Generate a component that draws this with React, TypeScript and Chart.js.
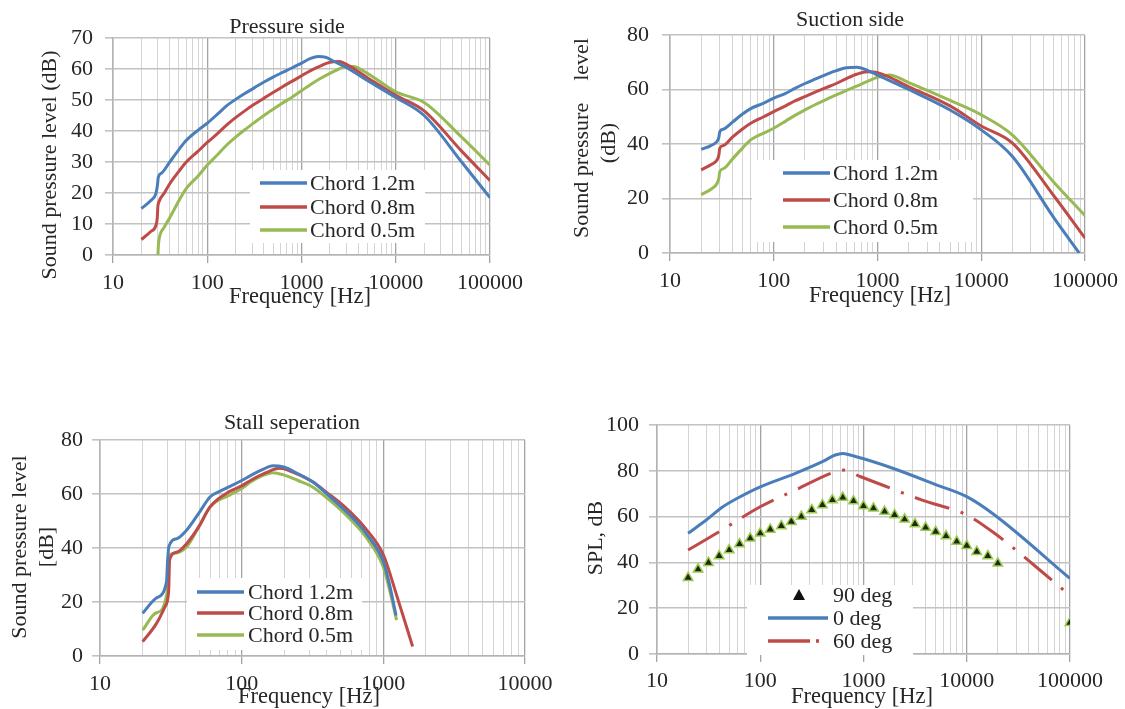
import React, { useEffect, useRef } from "react";
import { Chart, registerables } from "chart.js";

Chart.register(...registerables);

const FONT = '"Liberation Serif", "Times New Roman", serif';
const INK = "#262626";
const BLUE = "#4A7EBB";
const RED = "#BE4B48";
const GREEN = "#98B954";

// ---------- Pressure side ----------
const psFreq12 = [20, 25, 28.5, 29.6, 30.2, 33, 40, 50, 60, 80, 100, 130, 160, 200, 250, 315, 400, 500, 630, 800, 1000, 1250, 1500, 1800, 2200, 3000, 5000, 10000, 20000, 50000, 100000];
const psSpl12 = [15, 17.5, 19.8, 22.5, 25, 26.5, 30, 34, 37, 40.3, 42.5, 45.6, 48.1, 50.2, 52.1, 53.9, 55.8, 57.4, 58.9, 60.4, 61.9, 63.4, 64, 63.8, 62.5, 60.5, 56.3, 50.8, 45, 30, 18.5];
const psFreq08 = [20, 25, 28.5, 29.5, 29.9, 30.6, 35, 40, 50, 60, 80, 100, 130, 160, 200, 250, 315, 400, 500, 630, 800, 1000, 1250, 1600, 2000, 2500, 3000, 5000, 10000, 20000, 50000, 100000];
const psSpl08 = [5, 7.5, 9.5, 12, 15.5, 17, 20, 23, 27, 30, 33.5, 36.3, 39.3, 41.9, 44.3, 46.5, 48.6, 50.6, 52.4, 54.3, 56.1, 57.8, 59.5, 61, 62.2, 62.4, 61.5, 57.2, 51.5, 46.5, 33.5, 24];
const psFreq05 = [30, 30.3, 31, 35, 40, 50, 60, 80, 100, 130, 160, 200, 250, 315, 400, 500, 630, 800, 1000, 1250, 1600, 2000, 2500, 3000, 3600, 5000, 10000, 20000, 50000, 100000];
const psSpl05 = [0, 3, 5.5, 9, 12, 17.5, 21.5, 25.5, 29, 32.5, 35.4, 38, 40.4, 42.7, 45, 47, 49, 51, 53, 55, 57, 58.6, 60, 60.9, 60.8, 58.6, 52.6, 49.2, 38, 29];

// ---------- Suction side ----------
const ssFreq12 = [20, 25, 28.5, 29.6, 30.2, 33, 40, 50, 60, 80, 100, 130, 160, 200, 250, 315, 400, 500, 630, 800, 1000, 2000, 5000, 10000, 20000, 50000, 88000];
const ssSpl12 = [38, 39.5, 41, 42.5, 44.5, 45.5, 48, 51, 53, 55, 56.8, 58.6, 60.4, 62.2, 63.8, 65.4, 66.9, 68, 68.2, 67, 65.3, 60, 52.5, 45.2, 35.4, 13, 0];
const ssFreq08 = [20, 25, 28.5, 29.6, 30.2, 33, 40, 50, 60, 80, 100, 130, 160, 200, 250, 315, 400, 500, 630, 800, 1000, 2000, 5000, 10000, 20000, 50000, 100000];
const ssSpl08 = [30.5, 32.5, 34.2, 36, 38.5, 39.5, 42.5, 45.5, 47.6, 50, 51.9, 54, 55.8, 57.4, 59, 60.6, 62.2, 64, 65.6, 66.5, 66.2, 61, 54, 46.6, 40.3, 21, 5.5];
const ssFreq05 = [20, 25, 28.5, 29.6, 30.2, 33, 40, 50, 60, 80, 100, 130, 160, 200, 250, 315, 400, 500, 630, 800, 1000, 1300, 2000, 5000, 10000, 20000, 50000, 100000];
const ssSpl05 = [21.4, 23.5, 25.6, 27.5, 29.9, 31, 34.5, 38.5, 41.5, 44, 45.8, 48.4, 50.5, 52.5, 54.4, 56.2, 58, 59.6, 61.2, 63, 64.5, 65.3, 62.5, 56, 50.7, 43.3, 26, 13.7];

// ---------- Stall separation ----------
const stFreq12 = [20, 25, 29.5, 30, 30.6, 35, 41, 50, 60, 70, 82, 100, 117, 140, 166, 198, 250, 315, 400, 532, 650, 755, 1000, 1100, 1230];
const stSpl12 = [15.8, 21.5, 27.5, 35, 40.5, 43.5, 46.7, 53, 59, 61, 62.7, 65, 67, 69, 70.5, 70, 67.5, 64.6, 60, 54.1, 49.5, 45.4, 35, 27, 15];
const stFreq08 = [20, 25, 28.8, 30.5, 31, 35, 41, 50, 60, 82, 100, 117, 150, 185, 220, 315, 400, 532, 755, 1000, 1250, 1610];
const stSpl08 = [5.3, 12, 18.3, 23.8, 35.6, 38.5, 41.7, 48, 55.3, 60.9, 63, 65.2, 68, 69.5, 68.5, 64.6, 60.5, 55.3, 47, 37.5, 22, 3.5];
const stFreq05 = [20, 25, 29.7, 30, 33, 41, 50, 60, 82, 100, 117, 140, 166, 200, 250, 315, 400, 532, 755, 1000, 1100, 1240];
const stSpl05 = [9.6, 16, 23.2, 35.6, 38, 40.5, 48, 55.3, 59.6, 62, 64.6, 66.8, 67.9, 67, 65, 62.7, 58.5, 52.8, 44, 33, 25, 13.3];

// ---------- SPL vs angle ----------
const angFreq90 = [20, 25, 31.5, 40, 50, 63, 80, 100, 125, 160, 200, 250, 315, 400, 500, 630, 800, 1000, 1250, 1600, 2000, 2500, 3150, 4000, 5000, 6300, 8000, 10000, 12500, 16000, 20000, 100000];
const angSpl90 = [33.3, 37, 39.9, 42.8, 45.4, 48, 50.5, 52.7, 54.4, 55.9, 57.8, 60, 62.9, 65.1, 67.2, 68.3, 66.8, 64.6, 63.6, 62.2, 60.7, 58.8, 56.8, 55.2, 53.4, 51.5, 49.1, 47.3, 44.7, 42.8, 39.6, 13.7];
const angFreq0 = [20, 30, 43.5, 60, 100, 219, 400, 532, 630, 742, 1100, 1950, 5000, 10000, 18600, 100000];
const angSpl0 = [52.7, 58.5, 64.3, 68, 73, 78.9, 84, 86.9, 87.6, 86.9, 84.7, 81, 74, 68.7, 60.7, 33];
const angFreq60 = [20, 40, 100, 219, 532, 630, 940, 3700, 10000, 18600, 87000];
const angSpl60 = [45.4, 53.4, 64.3, 71.6, 79.6, 80.3, 77.4, 67.2, 60.7, 52.7, 27.9];

// ---------- axis tick labels ----------
const freqTicksWide = [10, 100, 1000, 10000, 100000];
const freqTicksStall = [10, 100, 1000, 10000];
const chordLabels = ["Chord 1.2m", "Chord 0.8m", "Chord 0.5m"];
const angleLabels = ["90 deg", "0 deg", "60 deg"];

function gridValues(dec: number[]) {
  const out: number[] = [];
  for (let i = 0; i < dec.length; i++) {
    out.push(dec[i]);
    if (i < dec.length - 1) for (let k = 2; k <= 9; k++) out.push(dec[i] * k);
  }
  return out;
}
function isDecade(v: any) {
  if (typeof v !== "number" || v <= 0) return false;
  const l = Math.log10(v);
  return Math.abs(l - Math.round(l)) < 1e-9;
}

function xAxis(dec: number[], h: number, pad: number) {
  const grid = gridValues(dec);
  return {
    type: "logarithmic",
    min: dec[0],
    max: dec[dec.length - 1],
    afterBuildTicks: (s: any) => {
      s.ticks = grid.map((v) => ({ value: v }));
    },
    afterFit: (s: any) => {
      s.height = h;
    },
    ticks: {
      autoSkip: false,
      maxRotation: 0,
      minRotation: 0,
      padding: pad,
      color: INK,
      font: { family: FONT, size: 22 },
      callback: (v: any) => (dec.includes(v) ? String(v) : ""),
    },
    grid: {
      color: (c: any) => (isDecade(c.tick && c.tick.value) ? "#A3A3A3" : "#D4D4D4"),
      lineWidth: (c: any) => (isDecade(c.tick && c.tick.value) ? 1.3 : 1),
      tickLength: 8,
      tickWidth: 1.3,
      tickColor: (c: any) => (isDecade(c.tick && c.tick.value) ? "#A3A3A3" : "rgba(0,0,0,0)"),
    },
    border: { display: true, color: "#B3B3B3", width: 1.5 },
  };
}

function yAxis(max: number, step: number, w: number, pad: number) {
  return {
    type: "linear",
    min: 0,
    max,
    afterFit: (s: any) => {
      s.width = w;
    },
    ticks: { stepSize: step, padding: pad, color: INK, font: { family: FONT, size: 22 } },
    grid: { color: "#C2C2C2", lineWidth: 1.6, tickLength: 8, tickColor: "#C2C2C2" },
    border: { display: true, color: "#B3B3B3", width: 1.5 },
  };
}

function lineDs(label: string, xs: number[], ys: number[], color: string, dash?: number[]) {
  return {
    label,
    data: xs.map((x, i) => ({ x, y: ys[i] })),
    borderColor: color,
    backgroundColor: color,
    borderWidth: 3,
    pointRadius: 0,
    fill: false,
    cubicInterpolationMode: "monotone",
    borderDash: dash || [],
    borderCapStyle: "butt",
  };
}

type TextItem = { t: string; x: number; y: number; size: number; rot?: boolean };
type LegItem = { label: string; y: number; color: string; kind: string; x1: number; x2: number; tx: number; mx?: number };

const DASHDOT = [36, 12, 3, 12];

function decor(texts: TextItem[], box: number[], items: LegItem[]) {
  return {
    id: "decor",
    beforeDatasetsDraw(chart: any) {
      const ctx = chart.ctx;
      ctx.save();
      ctx.fillStyle = "#ffffff";
      ctx.fillRect(box[0], box[1], box[2] - box[0], box[3] - box[1]);
      for (const it of items) {
        if (it.kind === "tri") {
          const cx = it.mx as number;
          ctx.beginPath();
          ctx.moveTo(cx, it.y - 6);
          ctx.lineTo(cx + 6, it.y + 5);
          ctx.lineTo(cx - 6, it.y + 5);
          ctx.closePath();
          ctx.fillStyle = "#111111";
          ctx.fill();
        } else {
          ctx.beginPath();
          ctx.strokeStyle = it.color;
          ctx.lineWidth = 3.5;
          ctx.lineCap = "butt";
          ctx.setLineDash(it.kind === "dashdot" ? [42, 6, 3, 12] : []);
          ctx.moveTo(it.x1, it.y);
          ctx.lineTo(it.x2, it.y);
          ctx.stroke();
          ctx.setLineDash([]);
        }
        ctx.fillStyle = INK;
        ctx.font = `22px ${FONT}`;
        ctx.textAlign = "left";
        ctx.textBaseline = "middle";
        ctx.fillText(it.label, it.tx, it.y + 1);
      }
      ctx.restore();
    },
    afterDraw(chart: any) {
      const ctx = chart.ctx;
      ctx.save();
      ctx.fillStyle = INK;
      ctx.textAlign = "center";
      ctx.textBaseline = "middle";
      for (const t of texts) {
        ctx.font = `${t.size}px ${FONT}`;
        if (t.rot) {
          ctx.save();
          ctx.translate(t.x, t.y);
          ctx.rotate(-Math.PI / 2);
          ctx.fillText(t.t, 0, 0);
          ctx.restore();
        } else {
          ctx.fillText(t.t, t.x, t.y);
        }
      }
      ctx.restore();
    },
  };
}

function baseOptions(pad: any, scales: any) {
  return {
    animation: false,
    responsive: false,
    events: [],
    layout: { padding: pad },
    plugins: { legend: { display: false }, tooltip: { enabled: false }, title: { display: false } },
    scales,
  };
}

function Panel({ left, top, width, height, make }: any) {
  const ref = useRef<HTMLCanvasElement>(null);
  useEffect(() => {
    const chart = new Chart(ref.current as HTMLCanvasElement, make());
    return () => chart.destroy();
  }, []);
  return (
    <canvas
      ref={ref}
      width={width}
      height={height}
      style={{ position: "absolute", left, top, width, height }}
    />
  );
}

const makePressure = () => ({
  type: "line",
  data: {
    datasets: [
      lineDs(chordLabels[0], psFreq12, psSpl12, BLUE),
      lineDs(chordLabels[1], psFreq08, psSpl08, RED),
      lineDs(chordLabels[2], psFreq05, psSpl05, GREEN),
    ],
  },
  options: baseOptions({ left: 0, top: 38, right: 72, bottom: 0 }, {
    x: xAxis(freqTicksWide, 99, 7),
    y: yAxis(70, 10, 113, 12),
  }),
  plugins: [
    decor(
      [
        { t: "Pressure side", x: 287, y: 27, size: 22 },
        { t: "Frequency [Hz]", x: 300, y: 297, size: 22.5 },
        { t: "Sound pressure level (dB)", x: 50, y: 165, size: 22, rot: true },
      ],
      [250, 170, 425, 243],
      [
        { label: chordLabels[0], y: 183, color: BLUE, kind: "line", x1: 260, x2: 307, tx: 310 },
        { label: chordLabels[1], y: 207, color: RED, kind: "line", x1: 260, x2: 307, tx: 310 },
        { label: chordLabels[2], y: 230, color: GREEN, kind: "line", x1: 260, x2: 307, tx: 310 },
      ]
    ),
  ],
});

const makeSuction = () => ({
  type: "line",
  data: {
    datasets: [
      lineDs(chordLabels[0], ssFreq12, ssSpl12, BLUE),
      lineDs(chordLabels[1], ssFreq08, ssSpl08, RED),
      lineDs(chordLabels[2], ssFreq05, ssSpl05, GREEN),
    ],
  },
  options: baseOptions({ left: 0, top: 35, right: 37, bottom: 0 }, {
    x: xAxis(freqTicksWide, 101, 7),
    y: yAxis(80, 20, 108, 13),
  }),
  plugins: [
    decor(
      [
        { t: "Suction side", x: 288, y: 20, size: 22 },
        { t: "Frequency [Hz]", x: 318, y: 296, size: 22.5 },
        { t: "Sound pressure    level", x: 20, y: 138, size: 22, rot: true },
        { t: "(dB)", x: 47, y: 143, size: 22, rot: true },
      ],
      [190, 160, 411, 242],
      [
        { label: chordLabels[0], y: 173, color: BLUE, kind: "line", x1: 221, x2: 268, tx: 271 },
        { label: chordLabels[1], y: 200, color: RED, kind: "line", x1: 221, x2: 268, tx: 271 },
        { label: chordLabels[2], y: 227, color: GREEN, kind: "line", x1: 221, x2: 268, tx: 271 },
      ]
    ),
  ],
});

const makeStall = () => ({
  type: "line",
  data: {
    datasets: [
      lineDs(chordLabels[0], stFreq12, stSpl12, BLUE),
      lineDs(chordLabels[1], stFreq08, stSpl08, RED),
      lineDs(chordLabels[2], stFreq05, stSpl05, GREEN),
    ],
  },
  options: baseOptions({ left: 0, top: 86, right: 37, bottom: 0 }, {
    x: xAxis(freqTicksStall, 53, 7),
    y: yAxis(80, 20, 100, 9),
  }),
  plugins: [
    decor(
      [
        { t: "Stall seperation", x: 292, y: 69, size: 22 },
        { t: "Frequency [Hz]", x: 309, y: 343, size: 22.5 },
        { t: "Sound pressure level", x: 20, y: 193, size: 22, rot: true },
        { t: "[dB]", x: 47, y: 193, size: 22, rot: true },
      ],
      [187, 224, 362, 296],
      [
        { label: chordLabels[0], y: 238, color: BLUE, kind: "line", x1: 197, x2: 244, tx: 248 },
        { label: chordLabels[1], y: 259, color: RED, kind: "line", x1: 197, x2: 244, tx: 248 },
        { label: chordLabels[2], y: 281, color: GREEN, kind: "line", x1: 197, x2: 244, tx: 248 },
      ]
    ),
  ],
});

const makeAngle = () => ({
  type: "line",
  data: {
    datasets: [
      {
        label: angleLabels[0],
        data: angFreq90.map((x, i) => ({ x, y: angSpl90[i] })),
        showLine: false,
        pointStyle: "triangle",
        pointRadius: 5.5,
        pointBackgroundColor: "#1E2A0E",
        pointBorderColor: "#9BCB4F",
        pointBorderWidth: 1.5,
      },
      lineDs(angleLabels[1], angFreq0, angSpl0, BLUE),
      lineDs(angleLabels[2], angFreq60, angSpl60, RED, DASHDOT),
    ],
  },
  options: baseOptions({ left: 0, top: 71, right: 55, bottom: 0 }, {
    x: xAxis(freqTicksWide, 55, 6),
    y: yAxis(100, 20, 95, 10),
  }),
  plugins: [
    decor(
      [
        { t: "Frequency [Hz]", x: 300, y: 343, size: 22.5 },
        { t: "SPL, dB", x: 34, y: 184, size: 22, rot: true },
      ],
      [185, 231, 351, 301],
      [
        { label: angleLabels[0], y: 241, color: "#111", kind: "tri", x1: 206, x2: 266, tx: 271, mx: 237 },
        { label: angleLabels[1], y: 264, color: BLUE, kind: "line", x1: 206, x2: 266, tx: 271 },
        { label: angleLabels[2], y: 287, color: RED, kind: "dashdot", x1: 206, x2: 266, tx: 271 },
      ]
    ),
  ],
});

export default function App() {
  return (
    <div
      style={{
        position: "fixed",
        left: 0,
        top: 0,
        width: 1125,
        height: 709,
        background: "#ffffff",
        overflow: "hidden",
      }}
    >
      <Panel left={0} top={0} width={562} height={354} make={makePressure} />
      <Panel left={562} top={0} width={563} height={354} make={makeSuction} />
      <Panel left={0} top={354} width={562} height={355} make={makeStall} />
      <Panel left={562} top={354} width={563} height={355} make={makeAngle} />
    </div>
  );
}
